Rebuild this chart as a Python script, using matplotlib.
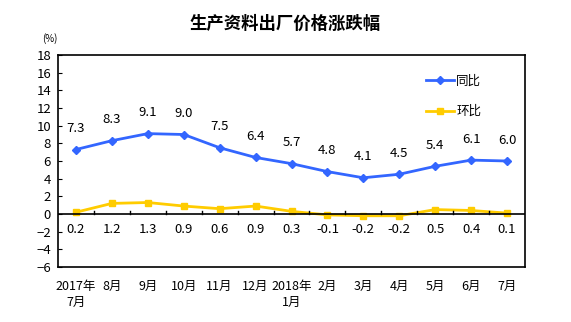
import matplotlib
matplotlib.use("Agg")
import matplotlib.pyplot as plt
import numpy as np

plt.rcParams['font.family'] = ['Noto Sans CJK SC', 'DejaVu Sans']

categories = ["2017年\n7月", "8月", "9月", "10月", "11月", "12月", "2018年\n1月",
              "2月", "3月", "4月", "5月", "6月", "7月"]
yoy = [7.3, 8.3, 9.1, 9.0, 7.5, 6.4, 5.7, 4.8, 4.1, 4.5, 5.4, 6.1, 6.0]
mom = [0.2, 1.2, 1.3, 0.9, 0.6, 0.9, 0.3, -0.1, -0.2, -0.2, 0.5, 0.4, 0.1]
title = "生产资料出厂价格涨跌幅"
yticks = list(range(-6, 19, 2))

blue = "#3366FF"
yellow = "#FFCC00"

fig = plt.figure(figsize=(5.71, 3.22), dpi=100)
ax = fig.add_axes([58/571, 1-267/322, (525-58)/571, (267-55)/322])

x = np.arange(len(categories))
ax.plot(x, yoy, color=blue, lw=2, marker='D', ms=4, label="同比")
ax.plot(x, mom, color=yellow, lw=2, marker='s', ms=5, label="环比")

ax.set_xlim(-0.5, len(categories) - 0.5)
ax.set_ylim(-6, 18)
ax.set_yticks(yticks)
ax.tick_params(axis='y', direction='in', length=3, labelsize=9.5, pad=5)
ax.set_xticks([])
for s in ax.spines.values():
    s.set_linewidth(1.2)

# zero line and its ticks
ax.axhline(0, color='black', lw=1.2)
for b in np.arange(0.5, len(categories) - 1, 1):
    ax.plot([b, b], [0, 0.35], color='black', lw=1)

for i, lab in enumerate(categories):
    ax.text(i, -7.5, lab, ha='center', va='top', fontsize=9, linespacing=1.25)

for i, v in enumerate(yoy):
    ax.annotate(f"{v:.1f}", (i, v), xytext=(0, 15), textcoords='offset points',
                ha='center', va='center', fontsize=9.5)
for i, v in enumerate(mom):
    ax.text(i, -1.7, f"{v:.1f}", ha='center', va='center', fontsize=9.5)

leg = ax.legend(loc='upper right', bbox_to_anchor=(0.93, 0.96), frameon=False,
                fontsize=9, handlelength=2.2, labelspacing=1.4, handletextpad=0.2,
                markerscale=0.9)

fig.text(285/571, 1-24/322, title, ha='center', va='center', fontsize=12.5, fontweight='bold')
fig.text(50/571, 1-39/322, "(%)", ha='center', va='center', fontsize=7)

fig.savefig("out.png", dpi=100)
